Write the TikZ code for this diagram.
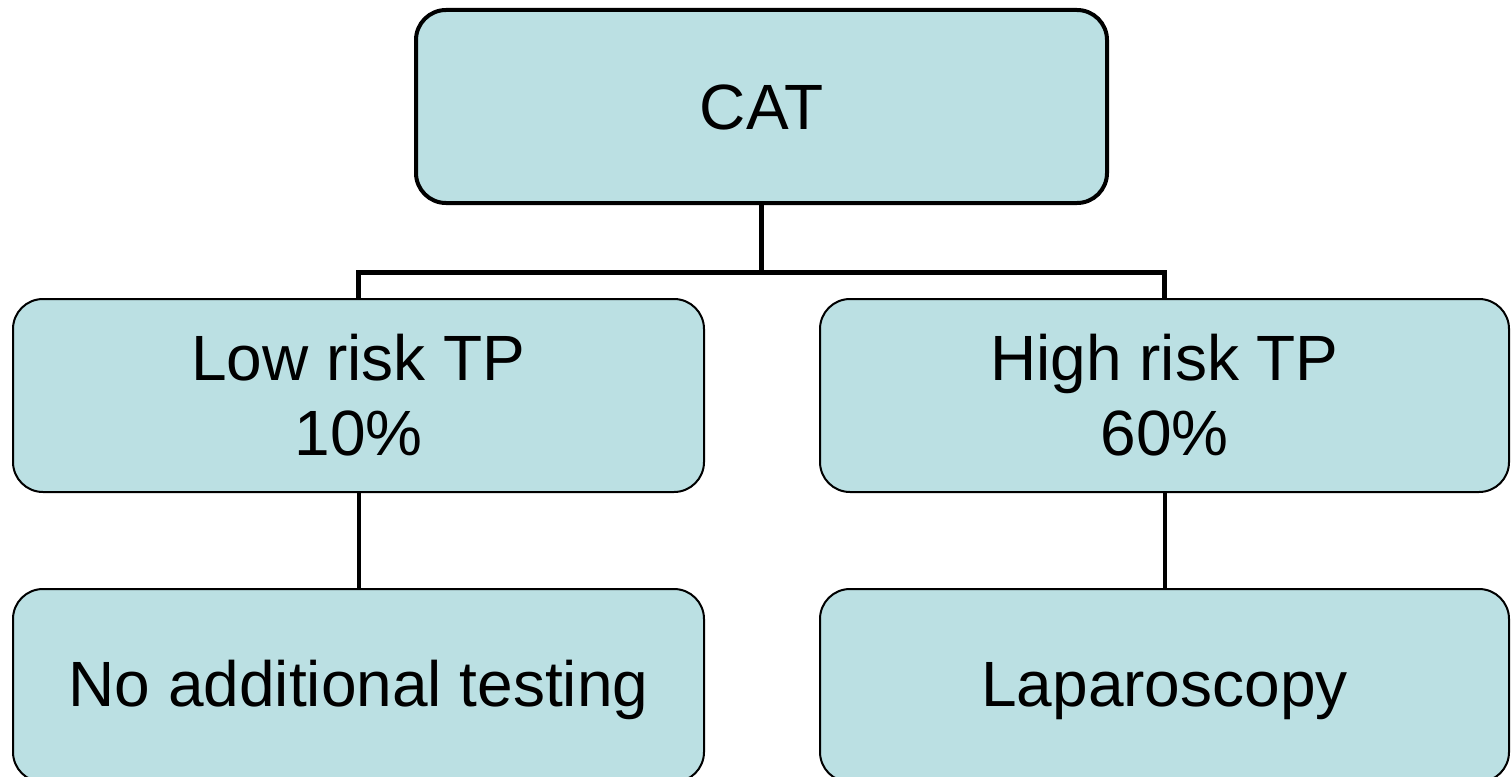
\documentclass[tikz,border=0pt]{standalone}
\usepackage{fontspec}
\setmainfont{Liberation Sans}
\definecolor{boxfill}{HTML}{BBE0E3}
\begin{document}
\begin{tikzpicture}[x=1pt,y=-1pt,
  box/.style={draw=black,fill=boxfill,rounded corners=30pt,inner sep=0pt,
    align=center,font=\fontsize{64}{75}\selectfont},
  oneline/.style={text height=#1,text depth=0pt},
  conn/.style={draw=black,line width=5pt}]
\useasboundingbox (0,0) rectangle (1511,776);
\node[box,oneline=45pt,line width=4pt,minimum width=691pt,minimum height=193pt] (cat) at (761.5,106.5) {CAT};
\node[box,line width=2pt,minimum width=691pt,minimum height=193pt] (low) at (358.5,395.5) {Low risk TP\\10\%};
\node[box,line width=2pt,minimum width=689pt,minimum height=193pt] (high) at (1164.5,395.5) {High risk TP\\60\%};
\node[box,oneline=42pt,line width=2pt,minimum width=691pt,minimum height=193pt] (noadd) at (358.5,685.5) {No additional testing};
\node[box,oneline=42pt,line width=2pt,minimum width=689pt,minimum height=193pt] (lap) at (1164.5,685.5) {Laparoscopy};
\coordinate (j) at (761.5,272);
\draw[conn] (cat.south) -- (j);
\draw[conn] (low.north) |- (j) -| (high.north);
\draw[conn,line width=4pt] (low.south) -- (noadd.north);
\draw[conn,line width=4pt] (high.south) -- (lap.north);
\end{tikzpicture}
\end{document}
